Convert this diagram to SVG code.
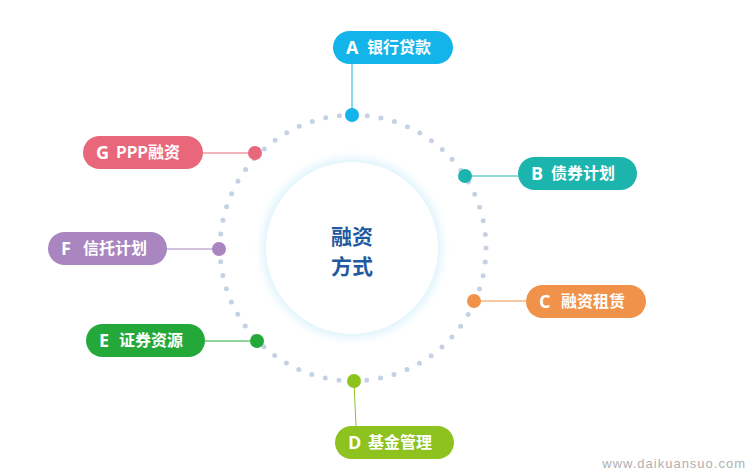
<svg xmlns="http://www.w3.org/2000/svg" width="754" height="471" viewBox="0 0 754 471">
<style>
.t{font-family:"Noto Sans CJK SC","Liberation Sans",sans-serif;font-size:16px;fill:#fff;font-weight:bold}
.k{font-family:"Open Sans","Liberation Sans",sans-serif;font-size:18px;fill:#fff;font-weight:bold}
</style>
<defs>
<radialGradient id="g" cx="0.5" cy="0.5" r="0.5">
<stop offset="0.8" stop-color="#d6f1fb"/>
<stop offset="0.88" stop-color="#e8f7fd"/>
<stop offset="1" stop-color="#fff" stop-opacity="0"/>
</radialGradient>
</defs>
<rect width="754" height="471" fill="#fff"/>
<g id="center">
<circle cx="352" cy="248" r="100" fill="url(#g)"/>
<circle cx="352" cy="248" r="86" fill="#fff"/>
<text x="352" y="244" text-anchor="middle" font-family="Noto Sans CJK SC,sans-serif" font-size="21" font-weight="bold" fill="#1f5aa0">融资</text>
<text x="352" y="274" text-anchor="middle" font-family="Noto Sans CJK SC,sans-serif" font-size="21" font-weight="bold" fill="#1f5aa0">方式</text>
</g>
<g id="ringdots">
<circle cx="353" cy="248" r="133" fill="none" stroke="#c5d2e5" stroke-width="5" stroke-linecap="round" stroke-dasharray="0 13.93"/>
</g>
<g id="connectors">
<line x1="352" y1="64" x2="352" y2="115" stroke="#12b4ea"/>
<line x1="465" y1="176" x2="518" y2="176" stroke="#1cb5ae"/>
<line x1="474" y1="301" x2="526" y2="301" stroke="#f0924a"/>
<line x1="354" y1="381" x2="356" y2="426" stroke="#8dc21f"/>
<line x1="205" y1="341" x2="257" y2="341" stroke="#24a839"/>
<line x1="167" y1="249" x2="219" y2="249" stroke="#a986bf"/>
<line x1="203" y1="153" x2="255" y2="153" stroke="#e9677a"/>
<circle cx="352" cy="115" r="7" fill="#12b4ea"/>
<circle cx="465" cy="176" r="7" fill="#1cb5ae"/>
<circle cx="474" cy="301" r="7" fill="#f0924a"/>
<circle cx="354" cy="381" r="7" fill="#8dc21f"/>
<circle cx="257" cy="341" r="7" fill="#24a839"/>
<circle cx="219" cy="249" r="7" fill="#a986bf"/>
<circle cx="255" cy="153" r="7" fill="#e9677a"/>
</g>
<g id="A"><rect x="333" y="31" width="120" height="33" rx="16.5" fill="#12b4ea"/><text class="k" x="346" y="54">A</text><text class="t" x="367" y="53">银行贷款</text></g>
<g id="B"><rect x="518" y="157" width="119" height="33" rx="16.5" fill="#1cb5ae"/><text class="k" x="531" y="180">B</text><text class="t" x="551" y="179">债券计划</text></g>
<g id="C"><rect x="526" y="285" width="120" height="33" rx="16.5" fill="#f0924a"/><text class="k" x="539" y="308">C</text><text class="t" x="561" y="307">融资租赁</text></g>
<g id="D"><rect x="335" y="426" width="119" height="33" rx="16.5" fill="#8dc21f"/><text class="k" x="348" y="449">D</text><text class="t" x="368" y="448">基金管理</text></g>
<g id="E"><rect x="86" y="324" width="119" height="33" rx="16.5" fill="#24a839"/><text class="k" x="99" y="347">E</text><text class="t" x="119" y="346">证券资源</text></g>
<g id="F"><rect x="48" y="232" width="119" height="33" rx="16.5" fill="#a986bf"/><text class="k" x="61" y="255">F</text><text class="t" x="83" y="254">信托计划</text></g>
<g id="G"><rect x="83" y="136" width="120" height="33" rx="16.5" fill="#e9677a"/><text class="k" x="96" y="159">G</text><text class="t" x="116" y="158">PPP融资</text></g>
<text x="746" y="468" text-anchor="end" font-family="Liberation Sans,sans-serif" font-size="13" fill="#b0b0b0" letter-spacing="1">www.daikuansuo.com</text>
</svg>
